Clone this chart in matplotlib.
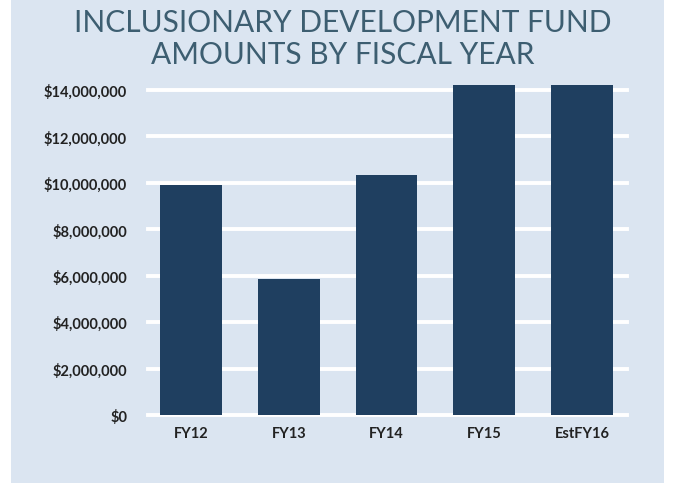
import matplotlib
matplotlib.use("Agg")
import matplotlib.pyplot as plt
from matplotlib.patches import Rectangle
from matplotlib.ticker import FuncFormatter

categories = ["FY12", "FY13", "FY14", "FY15", "EstFY16"]
amounts = [9900000, 5850000, 10350000, 14200000, 14200000]
yticks = [0, 2000000, 4000000, 6000000, 8000000, 10000000, 12000000, 14000000]
title = "INCLUSIONARY DEVELOPMENT FUND\nAMOUNTS BY FISCAL YEAR"

W, H = 673, 485
fig = plt.figure(figsize=(W / 100, H / 100), dpi=100)
fig.patch.set_facecolor("white")
panel_color = "#dbe5f1"
fig.patches.append(Rectangle((11 / W, 1 - 484 / H), (664 - 11) / W, 484 / H,
                             transform=fig.transFigure, facecolor=panel_color,
                             edgecolor="none", zorder=-10))

ax = fig.add_axes([148 / W, 1 - 416 / H, 479 / W, (416 - 84) / H])
ax.set_facecolor("none")
ax.bar(range(len(categories)), amounts, width=0.63, color="#1f3f60", zorder=3)
ax.set_xlim(-0.44, 4.46)
ax.set_ylim(0, 14300000)
ax.set_yticks(yticks)
for v in yticks:
    ax.axhline(v, color="white", linewidth=2.8, zorder=1, clip_on=False)
ax.yaxis.set_major_formatter(FuncFormatter(lambda v, p: "${:,.0f}".format(v)))
ax.set_xticks(range(len(categories)))
ax.set_xticklabels(categories)
for s in ax.spines.values():
    s.set_visible(False)
ax.tick_params(axis="both", length=0, labelcolor="#222222")
ax.tick_params(axis="y", pad=15)
ax.tick_params(axis="x", pad=8)
for lab in ax.get_yticklabels() + ax.get_xticklabels():
    lab.set_fontfamily("Lato")
    lab.set_fontsize(10.5)
    lab.set_fontweight("bold")

fig.text(343 / W, 1 - 39 / H, title, ha="center", va="center", fontsize=21.5,
         fontfamily="Lato", color="#3d5e71", linespacing=1.18)

fig.savefig("out.png", dpi=100, facecolor=fig.get_facecolor())
